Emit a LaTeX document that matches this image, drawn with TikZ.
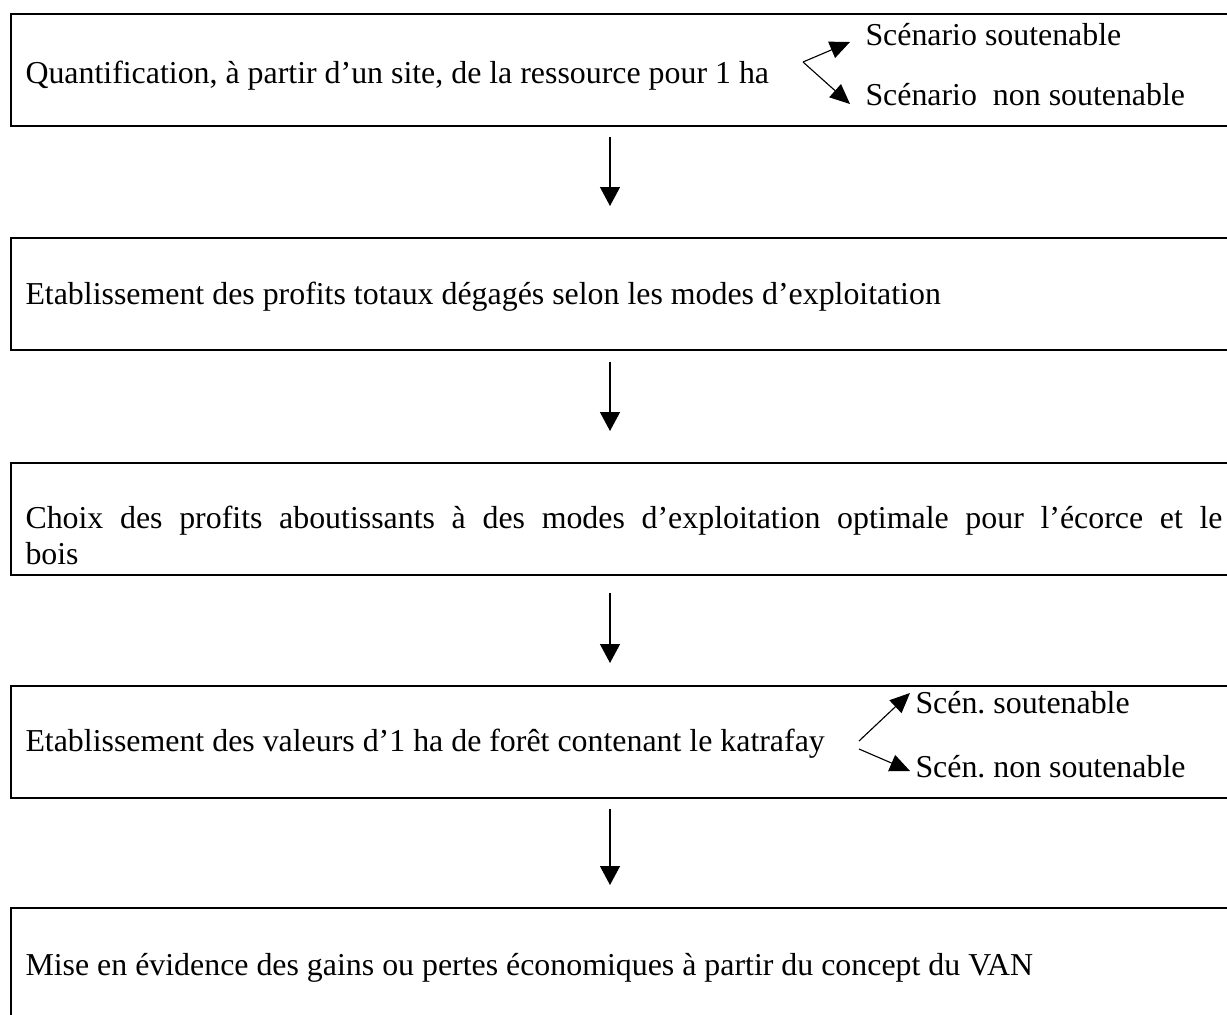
\documentclass[tikz,border=0pt]{standalone}
\usepackage{fontspec}
\setmainfont{Liberation Serif}
\usetikzlibrary{arrows.meta,calc}
\frenchspacing

\begin{document}
\begin{tikzpicture}[x=0.4pt,y=-0.4pt,
  >={Triangle[length=7.6pt,width=8pt]},
  stepbox/.style={draw,line width=0.6pt,rectangle,anchor=north west,
    minimum width=492pt,minimum height=44.8pt,inner sep=0pt},
  txt/.style={anchor=base west,inner sep=0pt,font=\fontsize{12.75}{15}\selectfont},
  fork/.style={-{Triangle[length=8pt,width=7pt]},line width=0.45pt},
  down/.style={->,line width=0.5pt}]
  \useasboundingbox (0,0) rectangle (1227,1014);

  %% Boxes (right edge runs off the page)
  \node[stepbox] (b1) at (10,13) {};
  \node[stepbox] (b2) at (10,237) {};
  \node[stepbox] (b3) at (10,462) {};
  \node[stepbox] (b4) at (10,685) {};
  \node[stepbox] (b5) at (10,907) {};

  %% Texts
  \node[txt] (t1) at (25,83) {Quantification, à partir d’un site, de la ressource pour 1 ha};
  \node[txt] (t2) at (25,304) {Etablissement des profits totaux dégagés selon les modes d’exploitation};
  \node[txt] (t3) at (25,528) {\makebox[478.8pt][s]{Choix des profits aboutissants à des modes d’exploitation optimale pour l’écorce et le}};
  \node[txt] (t3b) at (25,564) {bois};
  \node[txt] (t4) at (25,751) {Etablissement des valeurs d’1 ha de forêt contenant le katrafay};
  \node[txt] (t5) at (25,975) {Mise en évidence des gains ou pertes économiques à partir du concept du VAN};

  %% Scenarios, first box
  \node[txt] (s1) at (865,45) {Scénario soutenable};
  \node[txt] (s2) at (865,105) {Scénario\ \ non soutenable};
  \coordinate (f1) at (803,62);
  \coordinate (f1a) at (850,42);
  \coordinate (f1b) at (850,104);
  \draw[fork] (f1) -- (f1a);
  \draw[fork] (f1) -- (f1b);

  %% Scenarios, fourth box
  \node[txt] (s3) at (915,713) {Scén. soutenable};
  \node[txt] (s4) at (915,777) {Scén. non soutenable};
  \coordinate (f4) at (859,741);
  \coordinate (f4b) at (859,749);
  \draw[fork] (f4) -- (910,693);
  \draw[fork] (f4b) -- (910,771);

  %% Down arrows
  \coordinate (ax) at (610,0);
  \foreach \a/\b/\s/\e in {b1/b2/4pt/12.4pt, b2/b3/4.4pt/12.4pt,
                           b3/b4/6.8pt/8.8pt, b4/b5/4pt/8.8pt}
    \draw[down,shorten <=\s,shorten >=\e] (\a.south -| ax) -- (\b.north -| ax);
\end{tikzpicture}
\end{document}
